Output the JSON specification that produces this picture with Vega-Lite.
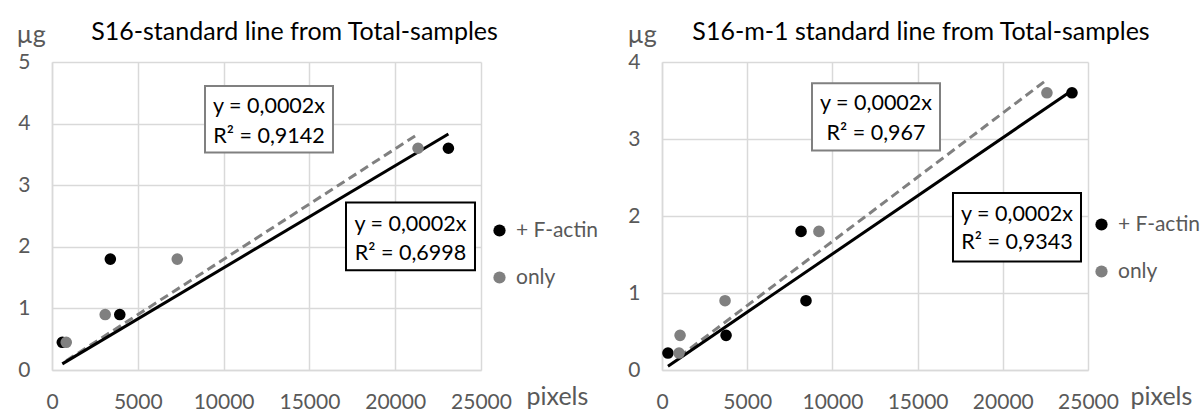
{
  "$schema": "https://vega.github.io/schema/vega-lite/v6.json",
  "background": "white",
  "padding": {"left": 16, "top": 20, "right": 0, "bottom": 0},
  "bounds": "flush",
  "spacing": 181,
  "config": {
    "font": "Lato",
    "view": {"stroke": null},
    "axis": {"grid": true, "gridColor": "#d9d9d9", "gridWidth": 1.5, "domainColor": "#d9d9d9", "domainWidth": 1.5, "ticks": false, "labelFont": "Lato", "labelFontSize": 21, "labelColor": "#595959", "labelOverlap": false, "labelFlush": false, "titleFont": "Lato", "titleFontSize": 25, "titleFontWeight": "normal", "titleColor": "#595959"},
    "axisX": {"labelPadding": 21, "titleAlign": "left", "titleBaseline": "alphabetic"},
    "axisY": {"labelPadding": 22, "titleAngle": 0, "titleAlign": "left", "titleBaseline": "alphabetic"},
    "title": {"font": "Lato", "fontSize": 25, "fontWeight": "normal", "color": "#000000", "anchor": "middle", "baseline": "alphabetic", "offset": -23},
    "legend": {"orient": "none", "title": null, "symbolType": "circle", "symbolSize": 150, "symbolStrokeWidth": 0, "labelFont": "Lato", "labelFontSize": 21, "labelColor": "#595959", "rowPadding": 25, "labelOffset": 6}
  },
  "datasets": {
    "pts1": [
      {"x": 600, "y": 0.45, "s": "+ F-actin"},
      {"x": 3400, "y": 1.8, "s": "+ F-actin"},
      {"x": 3950, "y": 0.9, "s": "+ F-actin"},
      {"x": 23100, "y": 3.6, "s": "+ F-actin"},
      {"x": 830, "y": 0.45, "s": "only"},
      {"x": 3100, "y": 0.9, "s": "only"},
      {"x": 7300, "y": 1.8, "s": "only"},
      {"x": 21330, "y": 3.6, "s": "only"}
    ],
    "trend1": [
      {"x": 600, "y": 0.10, "s": "+ F-actin"},
      {"x": 23100, "y": 3.83, "s": "+ F-actin"},
      {"x": 830, "y": 0.15, "s": "only"},
      {"x": 21330, "y": 3.83, "s": "only"}
    ],
    "box1": [
      {"x1": 8916, "x2": 16375, "y1": 4.61, "y2": 3.53, "s": "only"},
      {"x1": 17133, "x2": 24650, "y1": 2.72, "y2": 1.62, "s": "+ F-actin"}
    ],
    "txt1": [
      {"x": 12646, "y": 4.27, "t": "y = 0,0002x"},
      {"x": 12646, "y": 3.79, "t": "R² = 0,9142"},
      {"x": 20890, "y": 2.36, "t": "y = 0,0002x"},
      {"x": 20890, "y": 1.88, "t": "R² = 0,6998"}
    ],
    "pts2": [
      {"x": 350, "y": 0.22, "s": "+ F-actin"},
      {"x": 3760, "y": 0.45, "s": "+ F-actin"},
      {"x": 8160, "y": 1.8, "s": "+ F-actin"},
      {"x": 8450, "y": 0.9, "s": "+ F-actin"},
      {"x": 24060, "y": 3.6, "s": "+ F-actin"},
      {"x": 1000, "y": 0.22, "s": "only"},
      {"x": 1060, "y": 0.45, "s": "only"},
      {"x": 3700, "y": 0.9, "s": "only"},
      {"x": 9210, "y": 1.8, "s": "only"},
      {"x": 22590, "y": 3.6, "s": "only"}
    ],
    "trend2": [
      {"x": 350, "y": 0.05, "s": "+ F-actin"},
      {"x": 24060, "y": 3.63, "s": "+ F-actin"},
      {"x": 1000, "y": 0.17, "s": "only"},
      {"x": 22590, "y": 3.77, "s": "only"}
    ],
    "box2": [
      {"x1": 8803, "x2": 16315, "y1": 3.725, "y2": 2.85, "s": "only"},
      {"x1": 17077, "x2": 24589, "y1": 2.30, "y2": 1.41, "s": "+ F-actin"}
    ],
    "txt2": [
      {"x": 12559, "y": 3.45, "t": "y = 0,0002x"},
      {"x": 12559, "y": 3.07, "t": "R² = 0,967"},
      {"x": 20833, "y": 2.01, "t": "y = 0,0002x"},
      {"x": 20833, "y": 1.65, "t": "R² = 0,9343"}
    ]
  },
  "resolve": {"scale": {"color": "independent", "stroke": "independent", "x": "independent", "y": "independent"}, "legend": {"color": "independent"}},
  "hconcat": [
    {
      "width": 429,
      "height": 308,
      "title": {"text": "S16-standard line from Total-samples", "dx": 28},
      "encoding": {
        "x": {"field": "x", "type": "quantitative", "scale": {"domain": [0, 25000], "nice": false}, "axis": {"values": [0, 5000, 10000, 15000, 20000, 25000], "format": "d", "title": "pixels", "titleX": 474, "titleY": 34}},
        "y": {"field": "y", "type": "quantitative", "scale": {"domain": [0, 5], "nice": false}, "axis": {"values": [0, 1, 2, 3, 4, 5], "format": "d", "title": "µg", "titleX": -36, "titleY": -20}}
      },
      "layer": [
        {"data": {"name": "trend1"}, "transform": [{"filter": "datum.s === 'only'"}], "mark": {"type": "line", "color": "#808080", "strokeWidth": 3, "strokeDash": [9, 5]}},
        {"data": {"name": "trend1"}, "transform": [{"filter": "datum.s === '+ F-actin'"}], "mark": {"type": "line", "color": "#000000", "strokeWidth": 3}},
        {"data": {"name": "pts1"}, "mark": {"type": "point", "filled": true, "size": 135, "opacity": 1},
          "encoding": {"color": {"field": "s", "type": "nominal", "scale": {"domain": ["+ F-actin", "only"], "range": ["#000000", "#808080"]}, "legend": {"legendX": 437, "legendY": 158}}}},
        {"data": {"name": "box1"}, "mark": {"type": "rect", "fill": "white", "strokeWidth": 2},
          "encoding": {"x": {"field": "x1", "type": "quantitative"}, "x2": {"field": "x2"}, "y": {"field": "y1", "type": "quantitative"}, "y2": {"field": "y2"},
            "stroke": {"field": "s", "type": "nominal", "scale": {"domain": ["+ F-actin", "only"], "range": ["#000000", "#808080"]}, "legend": null}}},
        {"data": {"name": "txt1"}, "mark": {"type": "text", "fontSize": 21.5, "color": "#000000", "baseline": "middle", "align": "center"},
          "encoding": {"text": {"field": "t"}}}
      ]
    },
    {
      "width": 426,
      "height": 308,
      "title": {"text": "S16-m-1 standard line from Total-samples", "dx": 46},
      "encoding": {
        "x": {"field": "x", "type": "quantitative", "scale": {"domain": [0, 25000], "nice": false}, "axis": {"values": [0, 5000, 10000, 15000, 20000, 25000], "format": "d", "title": "pixels", "titleX": 468, "titleY": 34}},
        "y": {"field": "y", "type": "quantitative", "scale": {"domain": [0, 4], "nice": false}, "axis": {"values": [0, 1, 2, 3, 4], "format": "d", "title": "µg", "titleX": -35, "titleY": -20}}
      },
      "layer": [
        {"data": {"name": "trend2"}, "transform": [{"filter": "datum.s === 'only'"}], "mark": {"type": "line", "color": "#808080", "strokeWidth": 3, "strokeDash": [9, 5]}},
        {"data": {"name": "trend2"}, "transform": [{"filter": "datum.s === '+ F-actin'"}], "mark": {"type": "line", "color": "#000000", "strokeWidth": 3}},
        {"data": {"name": "pts2"}, "mark": {"type": "point", "filled": true, "size": 135, "opacity": 1},
          "encoding": {"color": {"field": "s", "type": "nominal", "scale": {"domain": ["+ F-actin", "only"], "range": ["#000000", "#808080"]}, "legend": {"legendX": 429, "legendY": 152}}}},
        {"data": {"name": "box2"}, "mark": {"type": "rect", "fill": "white", "strokeWidth": 2},
          "encoding": {"x": {"field": "x1", "type": "quantitative"}, "x2": {"field": "x2"}, "y": {"field": "y1", "type": "quantitative"}, "y2": {"field": "y2"},
            "stroke": {"field": "s", "type": "nominal", "scale": {"domain": ["+ F-actin", "only"], "range": ["#000000", "#808080"]}, "legend": null}}},
        {"data": {"name": "txt2"}, "mark": {"type": "text", "fontSize": 21.5, "color": "#000000", "baseline": "middle", "align": "center"},
          "encoding": {"text": {"field": "t"}}}
      ]
    }
  ]
}
